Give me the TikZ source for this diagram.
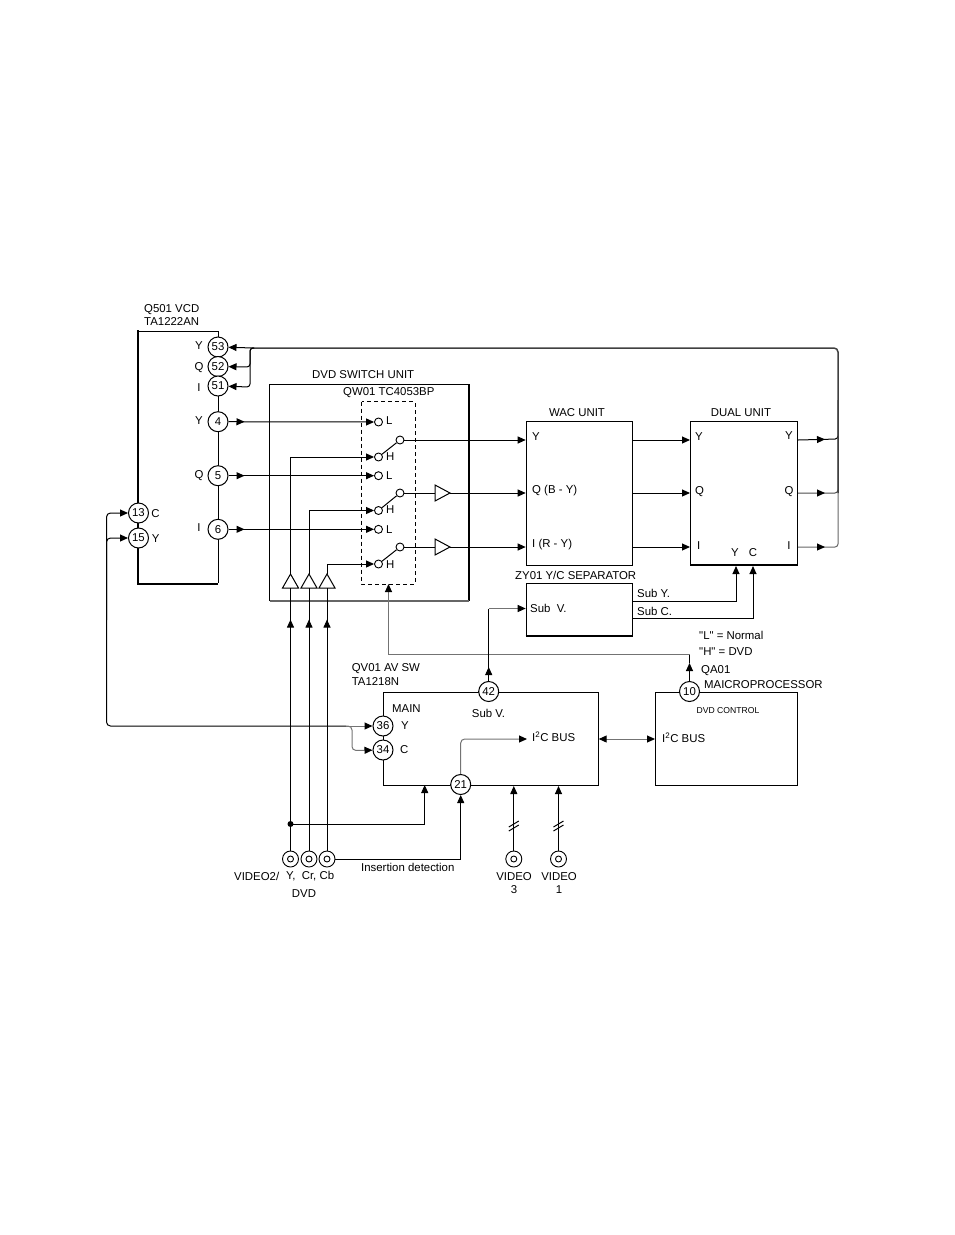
\documentclass[tikz,border=0pt]{standalone}
\usepackage{fontspec}
\setmainfont{Liberation Sans}
\newfontfamily\plainquotes{Liberation Sans}
\usetikzlibrary{arrows.meta,decorations.markings,calc}
\tikzset{
  wire/.style={line width=1pt,black},
  gwire/.style={line width=1pt,black!55},
  heavy/.style={line width=1.7pt,black},
  tip/.style={-{Triangle[length=8pt,width=7pt,color=black]}},
  midtip/.style={postaction={decorate},decoration={markings,mark=at position #1 with {\arrow{Triangle[length=8pt,width=7pt,color=black]}}}},
  pin/.style={circle,draw,line width=1pt,fill=white,minimum size=20pt,inner sep=0pt,font=\fontsize{11.4}{12}\selectfont},
  contact/.style={circle,draw,line width=0.9pt,fill=white,minimum size=8pt,inner sep=0pt},
  jack/.style={circle,draw,line width=0.9pt,fill=white,minimum size=16pt,inner sep=0pt},
  jackin/.style={circle,draw,line width=0.9pt,minimum size=6pt,inner sep=0pt},
  lab/.style={anchor=west,inner sep=0pt,yshift=-0.4pt,font=\fontsize{11.4}{12}\selectfont},
  clab/.style={anchor=center,inner sep=0pt,yshift=-0.4pt,font=\fontsize{11.4}{12}\selectfont},
  buf/.style={draw,line width=1pt,fill=white}
}
\begin{document}
\begin{tikzpicture}[x=1pt,y=-1pt]
\useasboundingbox (0,0) rectangle (954,1235);
% boxes
\draw[wire] (218,331) -- (138,331);
\draw[wire] (218,331) -- (218,583);
\draw[heavy] (138,330) -- (138,584) -- (218,584);
\draw[wire] (269.7,601) -- (269.7,384) -- (469,384);
\draw[heavy] (469,384) -- (469,601);
\draw[line width=1.5pt,black!60] (269.7,601) -- (469,601);
\draw[wire,dashed,dash pattern=on 4pt off 3pt] (361.7,401.7) rectangle (415,584);
\coordinate (dashB) at (388.5,584);
\node[draw,line width=1pt,minimum width=106.5pt,minimum height=144pt,inner sep=0pt,anchor=north west] (wac) at (525.7,421) {};
\node[draw,line width=1pt,minimum width=107pt,minimum height=144pt,inner sep=0pt,anchor=north west] (dual) at (690,421) {};
\draw[heavy] (690,565) -- (797,565);
\node[draw,line width=1pt,minimum width=106.5pt,minimum height=53pt,inner sep=0pt,anchor=north west] (zy) at (525.7,583) {};
\draw[heavy] (525.7,636) -- (632.2,636);
\node[draw,line width=1pt,minimum width=214.7pt,minimum height=93pt,inner sep=0pt,anchor=north west] (qv) at (383,692) {};
\node[draw,line width=1pt,minimum width=142pt,minimum height=93pt,inner sep=0pt,anchor=north west] (qa) at (655,692) {};
% pins
\node[pin] (p53) at (218,347) {53};
\node[pin] (p52) at (218,366.5) {52};
\node[pin] (p51) at (218,386) {51};
\node[pin] (p4) at (218,421.7) {4};
\node[pin] (p5) at (218,475.7) {5};
\node[pin] (p6) at (218,529.3) {6};
\node[pin] (p13) at (138.5,513) {13};
\node[pin] (p15) at (138.5,538) {15};
\node[pin] (p42) at (488.7,691.5) {42};
\node[pin] (p36) at (383,726) {36};
\node[pin] (p34) at (383,750) {34};
\node[pin] (p21) at (460.7,784.5) {21};
\node[pin] (p10) at (689.5,691.5) {10};
% contacts
\node[contact] (l1) at (378.5,422) {};
\node[contact] (h1) at (378.5,457) {};
\node[contact] (o1) at (400,440) {};
\node[contact] (l2) at (378.5,475.7) {};
\node[contact] (h2) at (378.5,510.5) {};
\node[contact] (o2) at (400,493) {};
\node[contact] (l3) at (378.5,529.3) {};
\node[contact] (h3) at (378.5,564) {};
\node[contact] (o3) at (400,547) {};
\draw[wire] (h1) -- (o1);
\draw[wire] (h2) -- (o2);
\draw[wire] (h3) -- (o3);
% pin 4,5,6 to L contacts
\draw[wire,tip,midtip=16pt] (p4) -- (l1);
\draw[wire,tip,midtip=16pt] (p5) -- (l2);
\draw[wire,tip,midtip=16pt] (p6) -- (l3);
% output buffers
\coordinate (b2a) at (435,485);
\coordinate (b2b) at (435,501);
\coordinate (b2c) at (450,493);
\coordinate (b3a) at (435,539);
\coordinate (b3b) at (435,555);
\coordinate (b3c) at (450,547);
\draw[wire] (o2) -- (b2a |- o2);
\draw[wire] (o3) -- (b3a |- o3);
\draw[buf] (b2a) -- (b2b) -- (b2c) -- cycle;
\draw[buf] (b3a) -- (b3b) -- (b3c) -- cycle;
\coordinate (wy) at (wac.west |- o1);
\coordinate (wq) at (wac.west |- o2);
\coordinate (wi) at (wac.west |- o3);
\draw[wire,tip] (o1) -- (wy);
\draw[wire,tip] (b2c) -- (wq);
\draw[wire,tip] (b3c) -- (wi);
% wac to dual
\coordinate (wyo) at (wac.east |- o1);
\coordinate (wqo) at (wac.east |- o2);
\coordinate (wio) at (wac.east |- o3);
\coordinate (dy) at (dual.west |- o1);
\coordinate (dq) at (dual.west |- o2);
\coordinate (di) at (dual.west |- o3);
\draw[wire,tip] (wyo) -- (dy);
\draw[wire,tip] (wqo) -- (dq);
\draw[wire,tip] (wio) -- (di);
% dual outputs and return bus
\coordinate (dyo) at (dual.east |- o1);
\coordinate (dqo) at (dual.east |- o2);
\coordinate (dio) at (dual.east |- o3);
\coordinate (busT) at (838,348);
\coordinate (busL) at (254,348);
\draw[line width=1pt,black!60,rounded corners=3pt,midtip=27pt] (dio) -- (838,547) -- (838,493);
\draw[line width=1pt,black!70,rounded corners=3pt,midtip=27pt] (dqo) -- (838,493) -- (838,439);
\draw[wire,rounded corners=3pt,midtip=27pt] (dyo) -- (838,439) -- (838,400);
\draw[line width=1.5pt,black!75,rounded corners=4pt] (838,493) -- (busT) -- (busL);
\draw[wire,tip] (busL) -- (p53);
\draw[wire,tip,rounded corners=3pt] (busL) -- (250,348) -- (250,367) -- (p52);
\draw[wire,tip,rounded corners=3pt] (busL) -- (250,348) -- (250,387) -- (p51);
% input triangles
\coordinate (t1a) at (290.5,574);
\coordinate (t2a) at (309,574);
\coordinate (t3a) at (327,574);
\coordinate (t1b) at (290.5,588);
\coordinate (t2b) at (309,588);
\coordinate (t3b) at (327,588);
\draw[wire,tip] (t1a) |- (h1);
\draw[wire,tip] (t2a) |- (h2);
\draw[wire,tip] (t3a) |- (h3);
\draw[buf] (t1a) -- (282.5,588) -- (298.5,588) -- cycle;
\draw[buf] (t2a) -- (301,588) -- (317,588) -- cycle;
\draw[buf] (t3a) -- (319,588) -- (335,588) -- cycle;
% jacks
\node[jack] (j1) at (290.5,859) {};
\node[jack] (j2) at (309,859) {};
\node[jack] (j3) at (327,859) {};
\node[jack] (j4) at (513.8,859) {};
\node[jack] (j5) at (558.5,859) {};
\node[jackin] at (j1) {};
\node[jackin] at (j2) {};
\node[jackin] at (j3) {};
\node[jackin] at (j4) {};
\node[jackin] at (j5) {};
\draw[wire,midtip=231pt] (j1) -- (t1b);
\draw[wire,midtip=231pt] (j2) -- (t2b);
\draw[wire,midtip=231pt] (j3) -- (t3b);
\fill (290.5,824) circle (3pt) coordinate (dot);
\coordinate (qvb) at (424.7,785);
\draw[wire,tip] (dot) -| (qvb);
\draw[wire,tip] (j3) -| (p21);
\coordinate (j4t) at (j4 |- qv.south);
\coordinate (j5t) at (j5 |- qv.south);
\draw[wire,tip] (j4) -- (j4t);
\draw[wire,tip] (j5) -- (j5t);
\draw[wire] ($(j4 |- 0,824)+(-5,3)$) -- ($(j4 |- 0,824)+(5,-3)$);
\draw[wire] ($(j4 |- 0,828)+(-5,3)$) -- ($(j4 |- 0,828)+(5,-3)$);
\draw[wire] ($(j5 |- 0,824)+(-5,3)$) -- ($(j5 |- 0,824)+(5,-3)$);
\draw[wire] ($(j5 |- 0,828)+(-5,3)$) -- ($(j5 |- 0,828)+(5,-3)$);
% inside QV01
\coordinate (i2c) at (527,739);
\draw[gwire,tip,rounded corners=4pt] (p21) |- (i2c);
% switch control
\coordinate (ctlc) at (689.5,654.5);
\coordinate (ctll) at (388.5,654.5);
\draw[gwire] (ctlc) -- (ctll);
\draw[gwire,tip] (ctll) -- (dashB);
\draw[wire,tip] (p10) -- (ctlc |- 0,663) ;
\draw[wire] (ctlc |- 0,663) -- (ctlc);
% sub V
\coordinate (subc) at (488.7,608.5);
\draw[wire,midtip=14pt] (p42) -- (subc);
\draw[gwire,tip] (subc) -- (zy.west |- subc);
% sub Y, C
\coordinate (zyo) at (zy.east |- 0,601.7);
\coordinate (zco) at (zy.east |- 0,618);
\draw[wire,tip] (zyo) -| (736,566);
\draw[wire,tip] (zco) -| (753,566);
% I2C between
\draw[gwire,{Triangle[length=8pt,width=7pt,color=black]}-{Triangle[length=8pt,width=7pt,color=black]}] (qv.east |- 0,739) -- (qa.west |- 0,739);
% left return
\coordinate (lbus) at (106.5,726);
\draw[wire,tip,rounded corners=4pt] (346,726) -- (lbus) -- (lbus |- p13) -- (p13);
\draw[wire,tip,rounded corners=4pt] (lbus |- 0,620) -- (lbus |- p15) -- (p15);
\draw[gwire,tip] (346,726) -- (p36);
\draw[gwire,tip,rounded corners=4pt] (346,726) -- (352,726) -- (352,750.5) -- (p34);
% texts
\node[lab] (t01) at (144,309) {Q501 VCD};
\node[lab] (t02) at (144,321) {TA1222AN};
\node[clab] (t03) at (199,345) {Y};
\node[clab] (t04) at (199,367) {Q};
\node[clab] (t05) at (199,387) {I};
\node[clab] (t06) at (199,420) {Y};
\node[clab] (t07) at (199,475) {Q};
\node[clab] (t08) at (199,527) {I};
\node[clab] (t09) at (155.6,513) {C};
\node[clab] (t10) at (155.6,538) {Y};
\node[lab] (t11) at (312,374) {DVD SWITCH UNIT};
\node[lab] (t12) at (343,392) {QW01 TC4053BP};
\node[lab] (t13) at (386,420) {L};
\node[lab] (t14) at (386,456) {H};
\node[lab] (t15) at (386,475) {L};
\node[lab] (t16) at (386,509) {H};
\node[lab] (t17) at (386,529) {L};
\node[lab] (t18) at (386,564) {H};
\node[clab] (t19) at (577,412) {WAC UNIT};
\node[clab] (t20) at (741,412) {DUAL UNIT};
\node[lab] (t21) at (532,436) {Y};
\node[lab] (t22) at (532,490) {Q (B - Y)};
\node[lab] (t23) at (532,544) {I (R - Y)};
\node[lab] (t24) at (695,436) {Y};
\node[lab] (t25) at (695,491) {Q};
\node[lab] (t26) at (697,545) {I};
\node[clab] (t27) at (789,435) {Y};
\node[clab] (t28) at (789,491) {Q};
\node[clab] (t29) at (789,545) {I};
\node[clab] (t30) at (735,552) {Y};
\node[clab] (t31) at (753,552) {C};
\node[lab] (t32) at (515,575) {ZY01 Y/C SEPARATOR};
\node[lab] (t33) at (530,608) {Sub\ \ V.};
\node[lab] (t34) at (637,593) {Sub Y.};
\node[lab] (t35) at (637,611) {Sub C.};
\node[lab] (t36) at (699,635) {\plainquotes "L" = Normal};
\node[lab] (t37) at (699,651) {\plainquotes "H" = DVD};
\node[lab] (t38) at (701,670) {QA01};
\node[lab] (t39) at (704,684) {MAICROPROCESSOR};
\node[clab,font=\fontsize{8.6}{9}\selectfont] (t40) at (728,710) {DVD CONTROL};
\node[lab] (t41) at (662,737) {I\textsuperscript{2}C BUS};
\node[lab] (t42) at (351.6,668) {QV01 AV SW};
\node[lab] (t43) at (351.6,681) {TA1218N};
\node[lab] (t44) at (392,708) {MAIN};
\node[lab] (t45) at (401,725) {Y};
\node[lab] (t46) at (400,749) {C};
\node[clab] (t47) at (488.5,713) {Sub V.};
\node[lab] (t48) at (532,736) {I\textsuperscript{2}C BUS};
\node[lab] (t49) at (361,867) {Insertion detection};
\node[lab] (t50) at (234,876) {VIDEO2/};
\node[lab] (t51) at (286,876) {Y,\ \ Cr,\ Cb};
\node[clab] (t52) at (304,893) {DVD};
\node[clab] (t53) at (514,876) {VIDEO};
\node[clab] (t54) at (514,889) {3};
\node[clab] (t55) at (559,876) {VIDEO};
\node[clab] (t56) at (559,889) {1};
\end{tikzpicture}
\end{document}
